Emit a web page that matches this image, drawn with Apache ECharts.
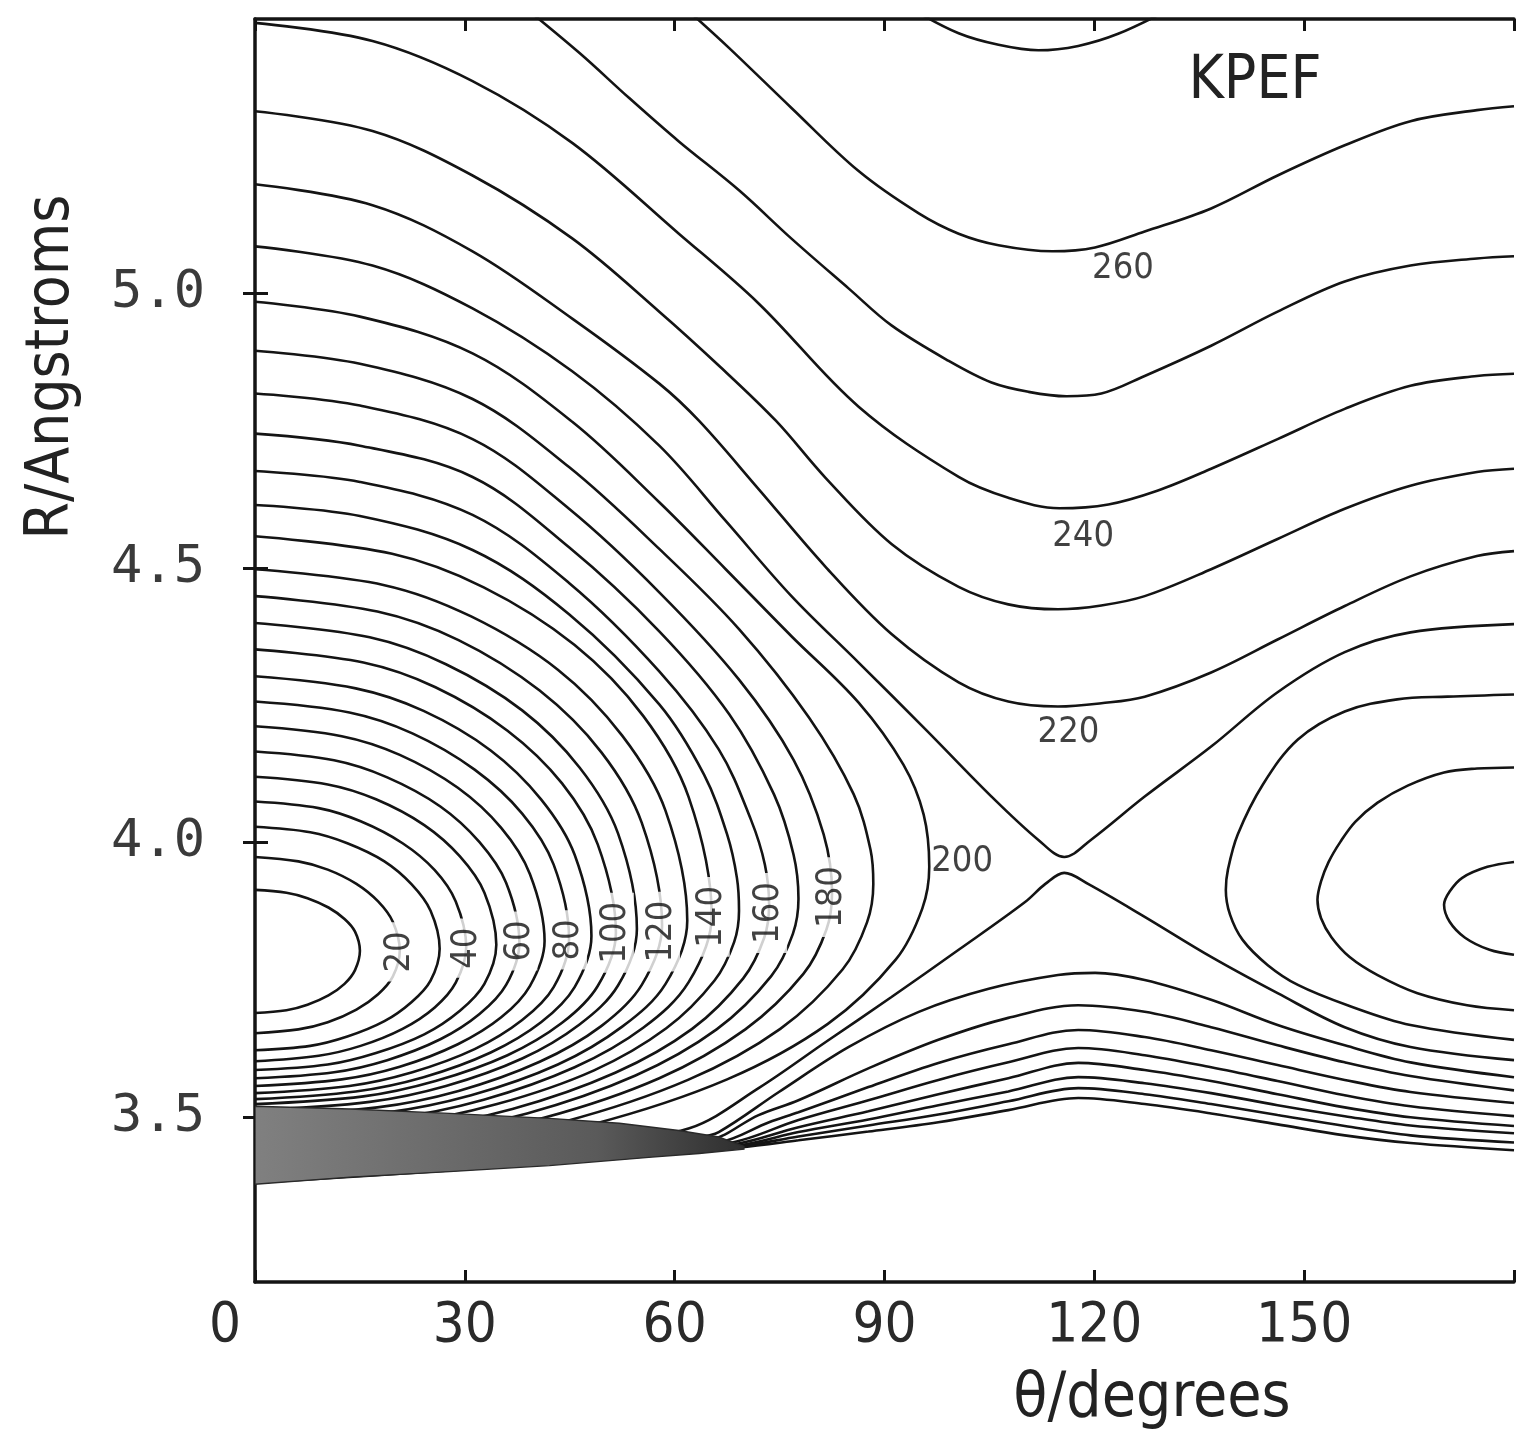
<!DOCTYPE html>
<html>
<head>
<meta charset="utf-8">
<script src="https://cdn.jsdelivr.net/npm/echarts@6/dist/echarts.min.js"></script>
<style>
html,body{margin:0;padding:0;background:#fff;}
#chart{width:1517px;height:1434px;}
</style>
</head>
<body>
<div id="chart"></div>
<script>
// ---- axis ticks ----
const thetaTicks = [0, 30, 60, 90, 120, 150, 180];
const rTicks = [3.5, 4.0, 4.5, 5.0];

// ---- contours of the left well (theta in degrees, R in Angstroms) ----
const c10 = [[0,3.914],[4.5,3.909],[7.5,3.899],[10.5,3.882],[12.8,3.861],[14.3,3.838],[15,3.803],[14.3,3.768],[12.8,3.743],[10.5,3.722],[7.5,3.705],[4.5,3.695],[0,3.690]];
const c20 = [[0,3.974],[6.2,3.966],[10.4,3.951],[14.5,3.925],[17.6,3.893],[19.7,3.856],[20.7,3.803],[19.7,3.756],[17.6,3.724],[14.5,3.696],[10.4,3.673],[6.2,3.660],[0,3.653]];
const c30 = [[0,4.029],[7.9,4.019],[13.2,3.999],[18.5,3.966],[22.4,3.924],[25.1,3.876],[26.4,3.807],[25.1,3.749],[22.4,3.710],[18.5,3.675],[13.2,3.647],[7.9,3.630],[0,3.622]];
const c40 = [[0,4.075],[9.1,4.063],[15.1,4.039],[21.1,3.999],[25.7,3.950],[28.7,3.893],[30.2,3.810],[28.7,3.745],[25.7,3.700],[21.1,3.661],[15.1,3.630],[9.1,3.612],[0,3.602]];
const c50 = [[0,4.120],[10.4,4.106],[17.3,4.079],[24.2,4.032],[29.3,3.975],[32.8,3.909],[34.5,3.814],[32.8,3.743],[29.3,3.694],[24.2,3.651],[17.3,3.617],[10.4,3.596],[0,3.586]];
const c60 = [[0,4.166],[11.3,4.150],[18.9,4.119],[26.5,4.066],[32.1,4.001],[35.9,3.927],[37.8,3.818],[35.9,3.741],[32.1,3.688],[26.5,3.642],[18.9,3.604],[11.3,3.582],[0,3.571]];
const c70 = [[0,4.212],[12.4,4.194],[20.7,4.160],[29.0,4.100],[35.2,4.027],[39.3,3.943],[41.4,3.821],[39.3,3.739],[35.2,3.682],[29.0,3.633],[20.7,3.592],[12.4,3.569],[0,3.557]];
const c80 = [[0,4.257],[13.5,4.237],[22.5,4.199],[31.4,4.133],[38.2,4.053],[42.7,3.960],[44.9,3.825],[42.7,3.737],[38.2,3.677],[31.4,3.624],[22.5,3.582],[13.5,3.557],[0,3.544]];
const c90 = [[0,4.303],[14.4,4.281],[24.1,4.240],[33.7,4.168],[40.9,4.079],[45.7,3.978],[48.1,3.830],[45.7,3.737],[40.9,3.673],[33.7,3.618],[24.1,3.573],[14.4,3.547],[0,3.533]];
const c100 = [[0,4.352],[15.5,4.328],[25.8,4.283],[36.1,4.204],[43.9,4.108],[49.0,3.997],[51.6,3.836],[49.0,3.739],[43.9,3.672],[36.1,3.613],[25.8,3.566],[15.5,3.538],[0,3.524]];
const c110 = [[0,4.400],[16.4,4.374],[27.3,4.325],[38.2,4.241],[46.4,4.137],[51.9,4.017],[54.6,3.843],[51.9,3.740],[46.4,3.669],[38.2,3.607],[27.3,3.557],[16.4,3.528],[0,3.513]];
const c120 = [[0,4.449],[17.5,4.421],[29.1,4.369],[40.7,4.277],[49.5,4.165],[55.3,4.036],[58.2,3.849],[55.3,3.741],[49.5,3.666],[40.7,3.601],[29.1,3.548],[17.5,3.518],[0,3.502]];
const c130 = [[0,4.498],[18.5,4.469],[30.9,4.412],[43.3,4.315],[52.5,4.195],[58.7,4.058],[61.8,3.858],[58.7,3.743],[52.5,3.665],[43.3,3.596],[30.9,3.540],[18.5,3.508],[0,3.491]];
const c140 = [[0,4.558],[19.6,4.526],[32.7,4.465],[45.7,4.360],[55.5,4.231],[62.0,4.083],[65.3,3.867],[62.0,3.746],[55.5,3.663],[45.7,3.591],[32.7,3.532],[19.6,3.498],[0,3.480]];
const c150 = [[0,4.615],[15,4.595],[31.1,4.533],[44.9,4.416],[57.8,4.252],[64.2,4.124],[67.5,4.015],[68.9,3.936],[69.2,3.876],[68.5,3.819],[65.7,3.749],[58.8,3.662],[48.4,3.585],[34.6,3.524],[20.8,3.488],[0,3.469]];
const c160 = [[0,4.677],[15,4.657],[31.1,4.597],[44.9,4.473],[57.8,4.312],[66.3,4.170],[70.9,4.042],[72.9,3.960],[73.5,3.887],[72.8,3.827],[69.8,3.753],[62.5,3.661],[51.5,3.581],[36.8,3.515],[22.1,3.478],[0,3.458]];
const c170 = [[0,4.745],[15,4.723],[31.1,4.666],[44.9,4.538],[57.8,4.385],[67.8,4.234],[74.2,4.088],[77.0,3.978],[77.7,3.898],[76.9,3.834],[73.8,3.757],[66.0,3.660],[54.4,3.576],[38.9,3.507],[23.3,3.468],[0,3.447]];
const c180 = [[0,4.818],[15,4.796],[31.1,4.735],[44.9,4.608],[57.8,4.456],[69.2,4.297],[77.0,4.151],[81.3,4.015],[82.5,3.909],[81.7,3.842],[78.4,3.761],[70.1,3.660],[57.8,3.571],[41.3,3.499],[24.8,3.458],[0,3.436]];
const c190 = [[0,4.896],[15,4.872],[31.1,4.808],[44.9,4.684],[57.8,4.535],[69.2,4.389],[79.2,4.228],[85.6,4.088],[88.0,3.987],[88.4,3.925],[87.5,3.855],[84.0,3.769],[75.1,3.661],[61.9,3.568],[44.2,3.492],[26.5,3.448],[0,3.425]];
const c200 = [[0,4.985],[15,4.958],[31.1,4.891],[45.4,4.766],[57.8,4.620],[67.3,4.498],[76.7,4.376],[86.3,4.255],[92.7,4.142],[95.6,4.051],[96.4,3.956],[95.4,3.880],[91.6,3.787],[81.9,3.670],[67.5,3.569],[48.2,3.487],[28.9,3.439],[0,3.414]];

// ---- contours of the right well ----
const r180 = [[180,3.965],[176.2,3.956],[172.6,3.936],[170.8,3.911],[170.0,3.887],[170.8,3.856],[173.0,3.827],[176.5,3.805],[180,3.796]];
const r190 = [[180,4.137],[174.7,4.135],[170.0,4.128],[164.8,4.104],[160.5,4.073],[157.3,4.038],[155.2,4.002],[153.5,3.965],[152.4,3.929],[151.9,3.896],[152.4,3.863],[153.9,3.828],[156.5,3.792],[160.5,3.759],[166.2,3.726],[173.3,3.704],[180,3.695]];
const r200 = [[180,4.270],[170.5,4.266],[163.3,4.261],[155.8,4.239],[149.1,4.188],[144.1,4.106],[140.5,4.015],[139.1,3.951],[138.8,3.914],[139.4,3.869],[141.2,3.823],[144.8,3.777],[149.1,3.741],[156.2,3.704],[165.2,3.668],[180,3.641]];

// ---- open contours, upper branches ----
const u210 = [[0,5.086],[16.8,5.051],[31.1,4.973],[45.4,4.858],[57.8,4.723],[67.3,4.586],[76.7,4.449],[86.3,4.328],[95.9,4.206],[105.3,4.084],[112.0,4.005],[115.7,3.974],[119.5,4.005],[127.2,4.084],[136.7,4.175],[146.2,4.274],[155.8,4.347],[165.2,4.383],[180,4.398]];
const u220 = [[0,5.199],[16.8,5.161],[31.1,5.077],[45.4,4.954],[57.8,4.836],[63.5,4.768],[72.0,4.644],[81.6,4.502],[91.0,4.380],[100.6,4.292],[107.7,4.257],[114.8,4.248],[121.0,4.254],[127.2,4.266],[136.7,4.310],[146.2,4.370],[155.8,4.431],[165.2,4.485],[174.7,4.522],[180,4.531]];
const u230 = [[0,5.332],[16.8,5.296],[31.1,5.215],[45.4,5.100],[57.8,4.967],[66.3,4.869],[74.5,4.768],[81.6,4.664],[91.0,4.544],[100.6,4.466],[107.7,4.434],[114.8,4.425],[121.0,4.432],[127.2,4.449],[136.7,4.498],[146.2,4.553],[155.8,4.608],[165.2,4.650],[174.7,4.675],[180,4.681]];
const u240 = [[0,5.493],[16.8,5.460],[31.1,5.387],[45.4,5.274],[60.6,5.109],[72.0,4.982],[86.3,4.794],[100.6,4.666],[107.7,4.628],[115.0,4.609],[122.0,4.616],[129.0,4.641],[136.7,4.681],[146.2,4.735],[155.8,4.790],[165.2,4.832],[174.7,4.850],[180,4.854]];
const u250 = [[37.8,5.529],[46.4,5.438],[53.5,5.356],[60.6,5.277],[69.2,5.188],[76.7,5.100],[84.9,5.009],[91.0,4.942],[99.1,4.878],[105.3,4.838],[110.6,4.821],[116.0,4.813],[121.0,4.818],[127.2,4.850],[136.7,4.905],[146.2,4.967],[155.8,5.022],[165.2,5.051],[174.7,5.064],[180,5.068]];
const u260 = [[62.3,5.511],[67.8,5.447],[76.7,5.338],[86.3,5.223],[94.9,5.146],[100.6,5.109],[106.3,5.088],[114.0,5.077],[120.1,5.084],[127.2,5.113],[136.7,5.155],[146.2,5.215],[155.8,5.270],[165.2,5.314],[174.7,5.334],[180,5.341]];
const u270 = [[94.2,5.516],[100.6,5.474],[106.3,5.453],[112.0,5.443],[117.7,5.451],[123.4,5.473],[130.5,5.516]];

// ---- open contours, lower branches (along the repulsive wall) ----
const l210 = [[0,3.411],[27.8,3.436],[49.2,3.458],[62.1,3.480],[72.0,3.553],[81.6,3.637],[91.0,3.719],[100.6,3.805],[110.1,3.892],[113.0,3.925],[115.7,3.945],[119.1,3.925],[127.2,3.865],[136.7,3.792],[146.2,3.726],[155.8,3.664],[165.2,3.628],[180,3.604]];
const l220 = [[0,3.407],[27.8,3.429],[52.1,3.453],[63.5,3.464],[66.3,3.473],[74.9,3.546],[84.9,3.628],[94.9,3.692],[104.9,3.734],[114.8,3.759],[120.1,3.763],[127.2,3.750],[136.7,3.714],[146.2,3.668],[155.8,3.631],[165.2,3.600],[180,3.573]];
const l230 = [[0,3.403],[27.8,3.425],[52.1,3.447],[64.9,3.458],[72.0,3.504],[77.7,3.531],[87.7,3.589],[97.7,3.641],[107.7,3.681],[117.7,3.704],[127.2,3.692],[136.7,3.664],[146.2,3.631],[155.8,3.600],[165.2,3.575],[180,3.549]];
const l240 = [[0,3.400],[27.8,3.422],[52.1,3.443],[66.3,3.454],[73.5,3.491],[77.7,3.509],[87.7,3.555],[97.7,3.599],[107.7,3.633],[117.7,3.659],[127.2,3.646],[136.7,3.622],[146.2,3.595],[155.8,3.568],[165.2,3.546],[180,3.526]];
const l250 = [[0,3.396],[27.8,3.418],[52.1,3.440],[67.8,3.453],[77.7,3.495],[87.7,3.531],[97.7,3.568],[107.7,3.600],[117.7,3.626],[127.2,3.613],[136.7,3.591],[146.2,3.566],[155.8,3.540],[165.2,3.520],[180,3.502]];
const l260 = [[0,3.392],[27.8,3.414],[52.1,3.436],[68.5,3.451],[77.7,3.482],[87.7,3.511],[97.7,3.542],[107.7,3.571],[117.7,3.599],[127.2,3.586],[136.7,3.566],[146.2,3.542],[155.8,3.518],[165.2,3.500],[180,3.484]];
const l270 = [[0,3.389],[27.8,3.411],[52.1,3.432],[69.2,3.449],[77.7,3.473],[87.7,3.496],[97.7,3.522],[107.7,3.547],[117.7,3.573],[127.2,3.562],[136.7,3.544],[146.2,3.522],[155.8,3.502],[165.2,3.485],[180,3.471]];
const l280 = [[0,3.385],[27.8,3.407],[52.1,3.429],[69.2,3.447],[77.7,3.465],[87.7,3.485],[97.7,3.505],[107.7,3.529],[117.7,3.553],[127.2,3.542],[136.7,3.524],[146.2,3.504],[155.8,3.484],[165.2,3.467],[180,3.454]];
const l290 = [[0,3.381],[27.8,3.403],[52.1,3.425],[69.2,3.445],[77.7,3.458],[87.7,3.474],[97.7,3.491],[107.7,3.513],[117.7,3.535],[127.2,3.524],[136.7,3.507],[146.2,3.487],[155.8,3.467],[165.2,3.453],[180,3.440]];

// ---- densely packed region at the wall (outline) ----
const wallBand = [[0,3.520],[13.6,3.515],[27.8,3.507],[42.1,3.498],[52.1,3.489],[60.6,3.476],[66.3,3.464],[69.9,3.447],[69.9,3.442],[63.5,3.434],[56.3,3.427],[42.1,3.412],[27.8,3.401],[13.6,3.391],[0,3.378]];

// ---- contour labels ----
const rotLabels = [[20.7,3.801,'20'],[30.2,3.808,'40'],[37.8,3.821,'60'],[44.9,3.823,'80'],[51.6,3.836,'100'],[58.2,3.838,'120'],[65.3,3.865,'140'],[73.5,3.872,'160'],[82.5,3.901,'180']];
const flatLabels = [[101.1,3.965,'200'],[116.3,4.201,'220'],[118.4,4.558,'240'],[124.1,5.046,'260']];

const contourLines = [c10,c20,c30,c40,c50,c60,c70,c80,c90,c100,c110,c120,c130,c140,c150,c160,c170,c180,c190,c200,
  r180,r190,r200,u210,u220,u230,u240,u250,u260,u270,l210,l220,l230,l240,l250,l260,l270,l280,l290];

const COND = "'DejaVu Sans Condensed','Liberation Sans Narrow','DejaVu Sans',sans-serif";
const MONO = "'DejaVu Sans Mono','Liberation Mono',monospace";
const INK = '#141414';

const chart = echarts.init(document.getElementById('chart'), null, {renderer:'canvas'});

const series = contourLines.map(d => ({
  type:'line', data:d, showSymbol:false, symbol:'none', smooth:0.35,
  lineStyle:{color:INK, width:2.6}, silent:true, z:2, clip:true, animation:false
}));

series.push({
  type:'custom', data: wallBand, z:3, silent:true, animation:false, clip:true,
  renderItem: function(params, api){
    if (params.dataIndex !== 0) return null;
    const pts = wallBand.map(p => api.coord(p));
    return {
      type:'polygon', shape:{points:pts},
      style:{
        fill: new echarts.graphic.LinearGradient(0,0,1,0,[{offset:0,color:'#808080'},{offset:0.7,color:'#5a5a5a'},{offset:1,color:'#2e2e2e'}]),
        stroke:'#2a2a2a', lineWidth:1.4
      }
    };
  }
});

series.push({
  type:'scatter', data: rotLabels, symbolSize:1, itemStyle:{color:'rgba(0,0,0,0)'}, z:6, silent:true, animation:false,
  label:{show:true, position:'inside', rotate:90, formatter:p=>p.data[2], color:'#111',
    fontSize:36, fontFamily:COND, backgroundColor:'#fff', padding:[0,9,0,9]}
});
series.push({
  type:'scatter', data: flatLabels, symbolSize:1, itemStyle:{color:'rgba(0,0,0,0)'}, z:6, silent:true, animation:false,
  label:{show:true, position:'inside', formatter:p=>p.data[2], color:'#111', fontSize:36, fontFamily:COND}
});

const option = {
  backgroundColor:'#fff',
  animation:false,
  grid:{left:255, top:19, width:1263, height:1263, containLabel:false},
  xAxis:[
    {type:'value', position:'bottom', min:thetaTicks[0], max:thetaTicks[thetaTicks.length-1], interval:30,
     axisLine:{show:true, lineStyle:{color:INK, width:3.5}},
     axisTick:{show:true, inside:true, length:12, lineStyle:{color:INK, width:3}},
     splitLine:{show:false},
     axisLabel:{show:true, margin:16, color:'#2a2a2a', fontSize:56, fontFamily:COND,
       formatter:v => v===0 ? '{z|0}' : (v===180 ? '' : String(v)),
       rich:{z:{fontSize:56, fontFamily:COND, color:'#2a2a2a', padding:[0,60,0,0]}}}},
    {type:'value', position:'top', min:thetaTicks[0], max:thetaTicks[thetaTicks.length-1], interval:30,
     axisLine:{show:true, lineStyle:{color:INK, width:3.5}},
     axisTick:{show:true, inside:true, length:12, lineStyle:{color:INK, width:3}},
     splitLine:{show:false}, axisLabel:{show:false}}
  ],
  yAxis:[
    {type:'value', position:'left', min:3.2, max:5.5,
     axisLine:{show:true, lineStyle:{color:INK, width:3.5}},
     axisTick:{show:true, inside:true, length:13, customValues:rTicks, lineStyle:{color:INK, width:3}},
     splitLine:{show:false},
     axisLabel:{show:true, margin:50, customValues:rTicks, color:'#3a3a3a', fontSize:52, fontFamily:MONO,
       formatter:v => v.toFixed(1)}},
    {type:'value', position:'right', min:3.2, max:5.5,
     axisLine:{show:false},
     axisTick:{show:true, inside:true, length:12, customValues:rTicks, lineStyle:{color:INK, width:3}},
     splitLine:{show:false}, axisLabel:{show:false}}
  ],
  graphic:[
    {type:'text', x:52, y:367, rotation:Math.PI/2,
     style:{text:'R/Angstroms', fill:'#222', fontSize:60, fontFamily:COND, align:'center', verticalAlign:'middle'}},
    {type:'text', x:1152, y:1400,
     style:{text:'\u03b8/degrees', fill:'#222', fontSize:62, fontFamily:COND, align:'center', verticalAlign:'middle'}},
    {type:'text', x:1255, y:82,
     style:{text:'KPEF', fill:'#222', fontSize:60, fontFamily:COND, align:'center', verticalAlign:'middle'}}
  ],
  series: series
};
chart.setOption(option);
</script>
</body>
</html>
